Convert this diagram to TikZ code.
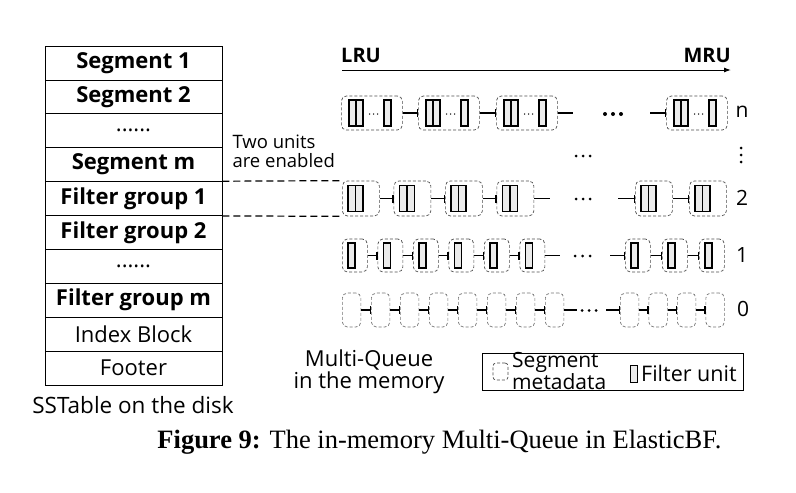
\documentclass[tikz,border=0pt]{standalone}
\usepackage{fontspec}
\setmainfont{Open Sans}
\newfontfamily\capfont{Liberation Serif}
\usetikzlibrary{arrows.meta}
\newcommand\mysixdots{......}
\begin{document}
\begin{tikzpicture}[x=1pt,y=-1pt,
  cell/.style={draw, line width=0.8pt, minimum width=177pt, minimum height=33.9pt, inner sep=0pt, font=\fontsize{22}{24}\selectfont},
  segbox/.style={draw=black!70, dash pattern=on 3pt off 2pt, rounded corners=5pt, line width=0.7pt, minimum height=34pt, inner sep=0pt, anchor=west},
  zerobox/.style={segbox, draw=black!55},
  funit/.style={draw, line width=1.2pt, fill=black!8, minimum width=7pt, minimum height=26pt, inner sep=0pt},
  link/.style={line width=1.3pt, -{Bar[width=8pt]}},
  plainlink/.style={line width=1.3pt},
  dotn/.style={circle, fill, inner sep=0pt, minimum size=4pt},
  dots/.style={circle, fill, inner sep=0pt, minimum size=3pt},
  tiny/.style={circle, fill, inner sep=0pt, minimum size=1.5pt},
  tabdash/.style={line width=1.2pt, dash pattern=on 7pt off 4pt},
  lbl/.style={font=\fontsize{21}{24}\selectfont},
]
\useasboundingbox (0,0) rectangle (796,493);

% SSTable
\foreach \i/\t/\f in {1/Segment 1/\bfseries, 2/Segment 2/\bfseries, 3/\mysixdots/, 4/Segment m/\bfseries,
  5/Filter group 1/\bfseries, 6/Filter group 2/\bfseries, 7/\mysixdots/, 8/Filter group m/\bfseries,
  9/Index Block/, 10/Footer/}
  \node[cell] (t\i) at (133.5, {46+33.9*(\i-0.5)}) {\f\t};
\node[font=\fontsize{22.5}{24}\selectfont] (sst) at (133,405) {SSTable on the disk};

\node[font=\fontsize{18.5}{19}\selectfont, align=left, anchor=west] (two) at (229,151) {Two units\\are enabled};

% LRU / MRU
\node[font=\bfseries\fontsize{20}{22}\selectfont, anchor=west, inner sep=0pt] (lru) at (341,55) {LRU};
\node[font=\bfseries\fontsize{20}{22}\selectfont, anchor=east, inner sep=0pt] (mru) at (731,55) {MRU};
\coordinate (a0) at (342,70);
\coordinate (a1) at (731,70);
\draw[line width=1pt, -{Latex[length=7pt,width=5pt]}] (a0) -- (a1);

% Row n
\foreach \i/\x in {1/341,2/418,3/496,4/666} {
  \node[segbox, minimum width=61pt] (n\i) at (\x,113) {};
  \node[funit] (n\i a) at (\x+11.5,113) {};
  \node[funit] (n\i b) at (\x+18.5,113) {};
  \node[tiny] (n\i d1) at (\x+28.5,114) {};
  \node[tiny] (n\i d2) at (\x+32.5,114) {};
  \node[tiny] (n\i d3) at (\x+36.5,114) {};
  \node[funit] (n\i c) at (\x+46.5,113) {};
}
\draw[link] (n1.east) -- (n2.west);
\draw[link] (n2.east) -- (n3.west);
\coordinate (nL) at (573,113);
\coordinate (nR) at (650,113);
\draw[plainlink] (n3.east) -- (nL);
\draw[link] (nR) -- (n4.west);
\node[dotn] (nd1) at (605,114) {};
\node[dotn] (nd2) at (613,114) {};
\node[dotn] (nd3) at (621,114) {};
\node[lbl] (ln) at (742,112) {n};

% middle dots
\node[dots] (md1) at (576,156) {};
\node[dots] (md2) at (583,156) {};
\node[dots] (md3) at (590,156) {};
\node[dots] (vd1) at (741,148) {};
\node[dots] (vd2) at (741,155) {};
\node[dots] (vd3) at (741,162) {};

% Row 2
\foreach \i/\x in {1/342,2/393.5,3/445,4/496.5,5/635,6/689} {
  \node[segbox, minimum width=37pt, minimum height=35pt] (s\i) at (\x,198.5) {};
  \node[funit, minimum width=7.5pt] (s\i a) at (\x+9.75,198.5) {};
  \node[funit, minimum width=7.5pt] (s\i b) at (\x+17.25,198.5) {};
}
\foreach \i/\j in {1/2,2/3,3/4,5/6} \draw[link] (s\i.east) -- (s\j.west);
\coordinate (sL) at (550,198.5);
\coordinate (sR) at (618,198.5);
\draw[plainlink] (s4.east) -- (sL);
\draw[link] (sR) -- (s5.west);
\node[dots] (sd1) at (576,199) {};
\node[dots] (sd2) at (583,199) {};
\node[dots] (sd3) at (590,199) {};
\node[lbl] (l2) at (742,198) {2};

% Row 1
\foreach \i/\x in {1/342,2/377.5,3/413,4/448.5,5/484,6/519.5,7/625,8/662,9/699} {
  \node[segbox, minimum width=25pt, minimum height=33pt] (o\i) at (\x,255.5) {};
  \node[funit, minimum height=25pt] (o\i a) at (\x+9.5,255.5) {};
}
\foreach \i/\j in {1/2,2/3,3/4,4/5,5/6,7/8,8/9} \draw[link] (o\i.east) -- (o\j.west);
\coordinate (oL) at (560,255.5);
\coordinate (oR) at (610,255.5);
\draw[plainlink] (o6.east) -- (oL);
\draw[link] (oR) -- (o7.west);
\node[dots] (od1) at (575,256) {};
\node[dots] (od2) at (582.5,256) {};
\node[dots] (od3) at (590,256) {};
\node[lbl] (l1) at (742,255) {1};

% Row 0
\foreach \i/\x in {1/342,2/371,3/400,4/429,5/458,6/487,7/516,8/545,9/620,10/648.5,11/677,12/705.5} {
  \node[zerobox, minimum width=18.5pt] (z\i) at (\x,310) {};
}
\foreach \i/\j in {1/2,2/3,3/4,4/5,5/6,6/7,7/8,9/10,10/11,11/12} \draw[link] (z\i.east) -- (z\j.west);
\coordinate (zL) at (577,310);
\coordinate (zR) at (606,310);
\draw[plainlink] (z8.east) -- (zL);
\draw[link] (zR) -- (z9.west);
\node[dots] (zd1) at (582,310.5) {};
\node[dots] (zd2) at (589,310.5) {};
\node[dots] (zd3) at (596,310.5) {};
\node[lbl] (l0) at (743,309) {0};

% dashed lines from table to queue 2
\draw[tabdash] (t5.north east) -- (s1.north west);
\draw[tabdash] (t5.south east) -- (s1.south west);

% Multi-Queue label
\node[font=\fontsize{22}{19.5}\selectfont, align=center] (mq) at (369,372) {Multi-Queue\\in the memory};

% Legend
\node[draw, line width=1pt, minimum width=261pt, minimum height=37pt, anchor=north west, inner sep=0pt] (leg) at (482,353) {};
\node[segbox, anchor=center, minimum width=15pt, minimum height=17pt, rounded corners=3pt] (lseg) at (500.5,371.5) {};
\node[font=\fontsize{21}{19}\selectfont, align=left, anchor=west, inner sep=0pt] (lsegt) at (512,370.5) {Segment\\metadata};
\node[funit, line width=1pt, minimum height=17pt, minimum width=6.5pt] (lfu) at (634,373.5) {};
\node[font=\fontsize{21.5}{22}\selectfont, anchor=west, inner sep=0pt] (lfut) at (641,373) {Filter unit};

% Caption
\node[font=\capfont\fontsize{26.5}{30}\selectfont] (cap) at (439.5,442) {\textbf{Figure 9:} The in-memory Multi-Queue in ElasticBF.};
\end{tikzpicture}
\end{document}
